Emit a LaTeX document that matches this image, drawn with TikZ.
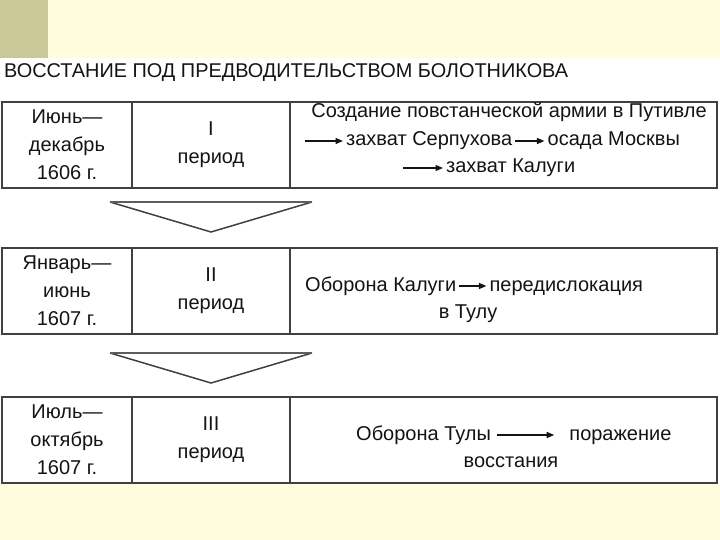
\documentclass[tikz,border=0pt]{standalone}
\usepackage{fontspec}
\setmainfont{Liberation Sans}
\usepackage{xcolor}
\usetikzlibrary{arrows.meta,positioning}
\definecolor{cream}{RGB}{255,253,222}
\definecolor{olive}{RGB}{200,201,150}
\definecolor{rule}{RGB}{64,64,64}
\definecolor{ink}{RGB}{20,20,20}

\begin{document}
\begin{tikzpicture}[
  x=1pt, y=-1pt,
  node distance=30pt,
  cell/.style={draw=rule, line width=1.8pt, minimum height=86pt, inner sep=0pt,
               align=center, text=ink, font=\fontsize{20}{28}\selectfont},
  phr/.style={inner xsep=3pt, inner ysep=0pt, text height=14pt, text depth=4pt,
              text=ink, font=\fontsize{20}{24}\selectfont},
  arr/.style={-{Triangle[length=7.5pt, width=6pt]}, line width=1.4pt, draw=ink},
  tri/.style={draw=rule, line width=1.5pt},
  trilid/.style={draw=rule!85, line width=2.8pt}
]
\useasboundingbox (0,0) rectangle (720,540);
\fill[white] (0,0) rectangle (720,540);
\fill[cream] (0,0) rectangle (720,58);
\fill[olive] (0,0) rectangle (48,58);
\fill[cream] (0,484) rectangle (720,540);

\node[anchor=base west, inner sep=0pt, text=ink, font=\fontsize{19.9}{22}\selectfont]
  (title) at (4,78) {ВОССТАНИЕ ПОД ПРЕДВОДИТЕЛЬСТВОМ БОЛОТНИКОВА};

\node[cell, minimum width=130pt] (d1) at (67,145) {Июнь—\\декабрь\\1606 г.};
\node[cell, minimum width=158pt] (p1) at (211,145) {I\\период};
\node[cell, minimum width=427pt] (e1) at (503.5,145) {};

\node[cell, minimum width=130pt] (d2) at (67,291) {Январь—\\июнь\\1607 г.};
\node[cell, minimum width=158pt] (p2) at (211,291) {II\\период};
\node[cell, minimum width=427pt] (e2) at (503.5,291) {};

\node[cell, minimum width=130pt] (d3) at (67,440) {Июль—\\октябрь\\1607 г.};
\node[cell, minimum width=158pt] (p3) at (211,440) {III\\период};
\node[cell, minimum width=427pt] (e3) at (503.5,440) {};

\node[phr, anchor=base] (army) at (509,118) {Создание повстанческой армии в Путивле};
\coordinate (s1) at (305,141);
\node[phr, anchor=base west] (serp) at (343,146) {захват Серпухова};
\node[phr, right=29pt of serp] (mosc) {осада Москвы};
\coordinate (s2) at (403,168);
\node[phr, anchor=base west] (kalz) at (443,173) {захват Калуги};

\node[phr, anchor=base west] (kalo) at (302,291) {Оборона Калуги};
\node[phr, right=27pt of kalo] (pered) {передислокация};
\node[phr, anchor=base] (tula) at (468,318) {в Тулу};

\node[phr, anchor=base west] (tulo) at (353,440) {Оборона Тулы};
\node[phr, right=72pt of tulo] (defeat) {поражение};
\node[phr, anchor=base] (vosst) at (511,467) {восстания};

\draw[arr] (s1) -- (serp.west);
\draw[arr] (serp) -- (mosc);
\draw[arr] (s2) -- (kalz.west);
\draw[arr] (kalo) -- (pered);
\draw[arr, shorten <=3pt, shorten >=12pt] (tulo) -- (defeat);

\draw[tri] (110,202) -- (211,232) -- (312,202);
\draw[trilid] (110,202) -- (312,202);
\draw[tri] (110,353) -- (211,383) -- (312,353);
\draw[trilid] (110,353) -- (312,353);
\end{tikzpicture}
\end{document}
